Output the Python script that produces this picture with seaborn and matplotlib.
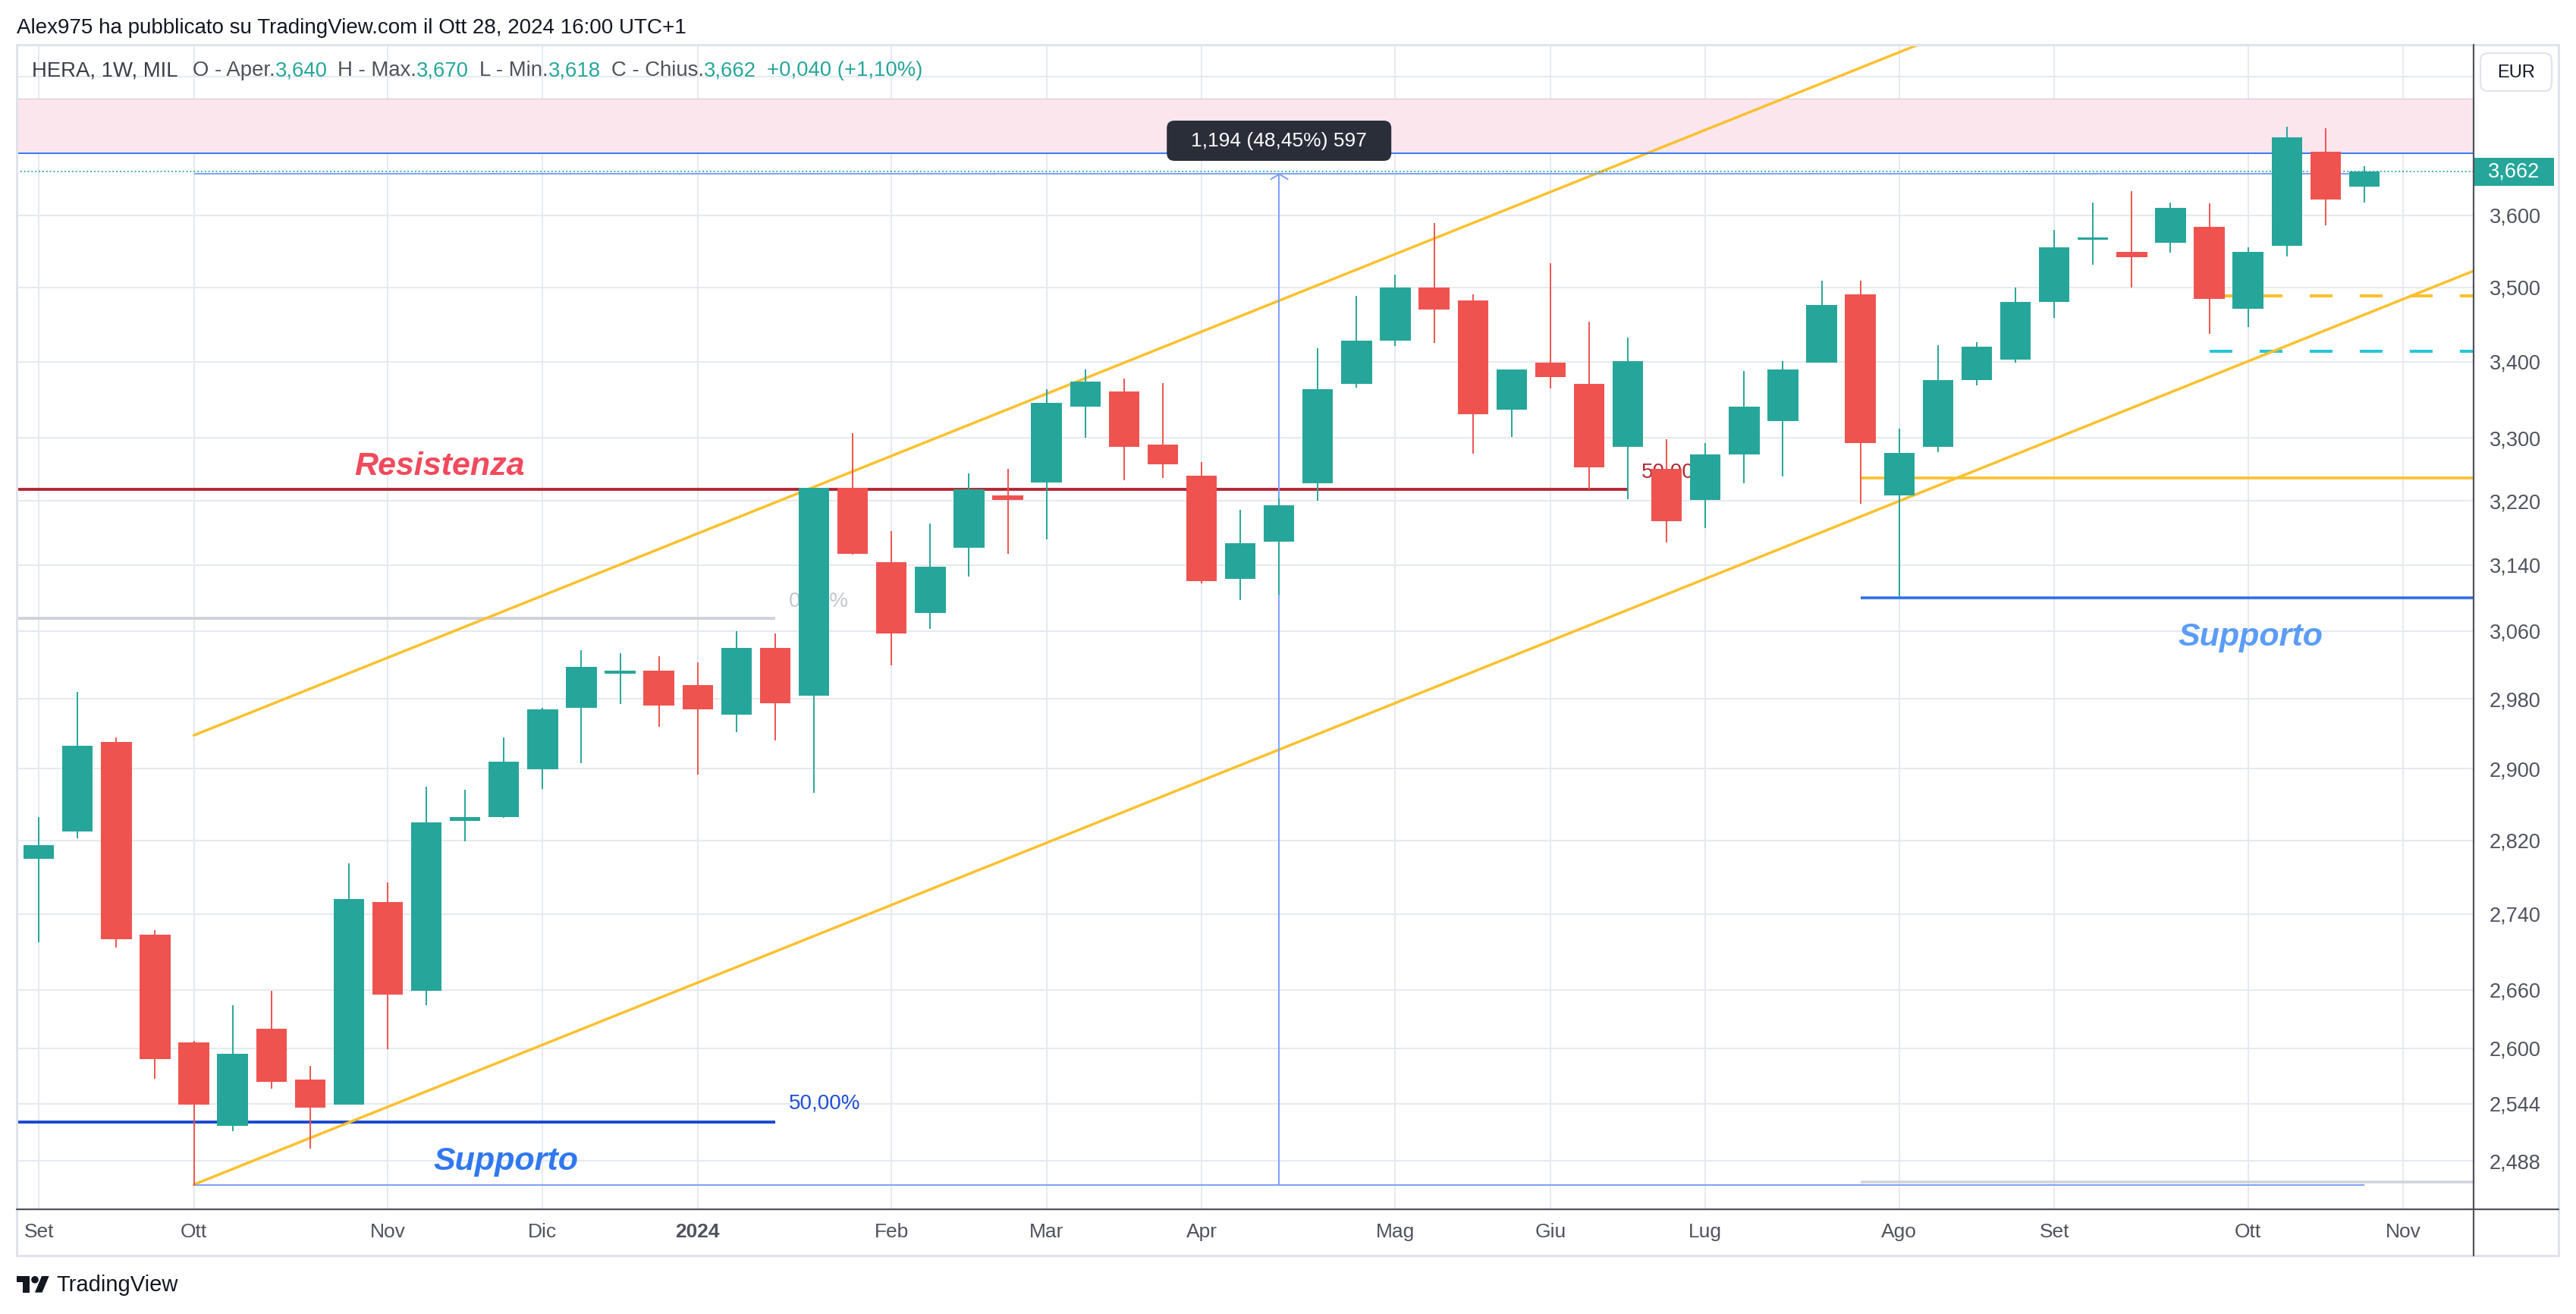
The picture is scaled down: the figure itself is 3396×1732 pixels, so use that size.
"""
HERA (MIL) weekly candles with TradingView-style drawings.
"""

import numpy as np
import pandas as pd
import matplotlib

matplotlib.use("Agg")
import matplotlib.pyplot as plt
import seaborn as sns
from matplotlib.patches import FancyBboxPatch, Polygon, Circle, Rectangle
from matplotlib.path import Path
from matplotlib.ticker import FixedLocator, FixedFormatter, NullLocator

# ---------------------------------------------------------------- data
first_week = "2023-09-04"

opens = [2.800, 2.830, 2.930, 2.718, 2.606, 2.522, 2.620, 2.568, 2.543, 2.753,
         2.659, 2.841, 2.846, 2.899, 2.970, 3.010, 3.013, 2.996, 2.962, 3.040,
         2.984, 3.236, 3.144, 3.082, 3.161, 3.227, 3.243, 3.341, 3.360, 3.291,
         3.252, 3.123, 3.169, 3.242, 3.370, 3.428, 3.500, 3.482, 3.337, 3.399,
         3.370, 3.289, 3.260, 3.221, 3.279, 3.322, 3.399, 3.490, 3.227, 3.289,
         3.375, 3.403, 3.480, 3.566, 3.549, 3.562, 3.584, 3.471, 3.557, 3.691,
         3.640]
highs = [2.846, 2.988, 2.936, 2.723, 2.607, 2.644, 2.659, 2.582, 2.795, 2.774,
         2.880, 2.876, 2.936, 2.970, 3.037, 3.034, 3.030, 3.023, 3.060, 3.057,
         3.236, 3.306, 3.182, 3.192, 3.255, 3.260, 3.363, 3.389, 3.377, 3.371,
         3.269, 3.209, 3.223, 3.418, 3.488, 3.517, 3.589, 3.490, 3.389, 3.533,
         3.453, 3.432, 3.298, 3.293, 3.387, 3.401, 3.509, 3.509, 3.312, 3.422,
         3.426, 3.500, 3.580, 3.618, 3.634, 3.618, 3.617, 3.555, 3.727, 3.724,
         3.670]
lows = [2.710, 2.822, 2.704, 2.569, 2.464, 2.517, 2.559, 2.500, 2.543, 2.599,
        2.644, 2.819, 2.845, 2.877, 2.906, 2.974, 2.948, 2.893, 2.942, 2.932,
        2.873, 3.153, 3.019, 3.063, 3.126, 3.154, 3.172, 3.300, 3.246, 3.249,
        3.118, 3.097, 3.104, 3.220, 3.365, 3.421, 3.425, 3.280, 3.301, 3.364,
        3.234, 3.222, 3.168, 3.186, 3.242, 3.251, 3.399, 3.216, 3.102, 3.282,
        3.368, 3.399, 3.458, 3.531, 3.500, 3.548, 3.437, 3.446, 3.543, 3.586,
        3.618]
closes = [2.815, 2.926, 2.713, 2.589, 2.543, 2.594, 2.566, 2.540, 2.756, 2.655,
          2.840, 2.846, 2.908, 2.968, 3.018, 3.012, 2.972, 2.968, 3.040, 2.975,
          3.236, 3.154, 3.057, 3.138, 3.234, 3.221, 3.346, 3.373, 3.289, 3.266,
          3.120, 3.167, 3.214, 3.363, 3.428, 3.500, 3.470, 3.331, 3.389, 3.379,
          3.262, 3.401, 3.194, 3.279, 3.341, 3.389, 3.476, 3.293, 3.281, 3.375,
          3.420, 3.480, 3.555, 3.567, 3.542, 3.610, 3.484, 3.549, 3.711, 3.622,
          3.662]

price_ticks = [2.488, 2.544, 2.600, 2.660, 2.740, 2.820, 2.900, 2.980,
               3.060, 3.140, 3.220, 3.300, 3.400, 3.500, 3.600]
unlabelled_grid = [3.700, 3.800]
month_names = ["Gen", "Feb", "Mar", "Apr", "Mag", "Giu",
               "Lug", "Ago", "Set", "Ott", "Nov", "Dic"]

y_range = (2.4413, 3.848)
x_range = (-0.57, 62.82)

# drawings (price levels / anchor bars)
pink_zone = (3.688, 3.768)
zone_line = 3.688
resistance = 3.2346
resistance_end = 41
fib_top = 3.075
fib_half = 2.5257
fib_end = 19
support_right = 3.0999
orange_level = 3.2487
grey_level = 2.4675
right_levels_start = 47
dash_orange = 3.488
dash_cyan = 3.4134
dash_start = 56
measure_bars = (4, 60)
measure_mid = 32
measure_prices = (2.4645, 3.6585)
channel_lower = ([4, 62.82], [2.465, 3.5226])
channel_upper = ([4, 40.27], [2.938, 3.661])

UP = "#26a69a"
DOWN = "#ef5350"
YELLOW = "#fbc02d"

# ---------------------------------------------------------------- style
sns.set_theme(style="white")
plt.rcParams["font.family"] = ["Liberation Sans", "DejaVu Sans"]
plt.rcParams["lines.scale_dashes"] = False

W, H, DPI = 3396, 1732, 100
L, R, T, B = 22, 3261, 59, 1594

fig = plt.figure(figsize=(W / DPI, H / DPI), dpi=DPI)
fig.patch.set_facecolor("white")
ax = fig.add_axes([L / W, 1 - B / H, (R - L) / W, (B - T) / H])


def price_px(p):
    lo, hi = np.log(y_range[0]), np.log(y_range[1])
    return T + (hi - np.log(p)) / (hi - lo) * (B - T)


def bar_px(i):
    return L + (i - x_range[0]) / (x_range[1] - x_range[0]) * (R - L)


def fmt(v):
    return f"{v:.3f}".replace(".", ",")


# ---------------------------------------------------------------- axes
ax.set_yscale("log")
ax.set_ylim(*y_range)
ax.set_xlim(*x_range)
for s in ax.spines.values():
    s.set_visible(False)

ax.yaxis.tick_right()
ax.yaxis.set_major_locator(FixedLocator(price_ticks + unlabelled_grid))
ax.yaxis.set_major_formatter(
    FixedFormatter([fmt(v) for v in price_ticks] + ["" for _ in unlabelled_grid]))
ax.yaxis.set_minor_locator(NullLocator())

weeks = pd.date_range(first_week, periods=63, freq="W-MON")
month_idx = [i for i in range(len(weeks))
             if i == 0 or weeks[i].month != weeks[i - 1].month]
month_idx = [i for i in month_idx if i <= x_range[1]]
month_lbl = [str(weeks[i].year) if weeks[i].month == 1 else month_names[weeks[i].month - 1]
             for i in month_idx]
ax.set_xticks(month_idx)
ax.set_xticklabels(month_lbl)
for t, lbl in zip(ax.get_xticklabels(), month_lbl):
    if lbl.isdigit():
        t.set_fontweight("bold")
        t.set_color("#2a2e39")

ax.tick_params(axis="y", length=0, pad=15, labelsize=19.5, labelcolor="#50535e")
ax.tick_params(axis="x", length=0, pad=13, labelsize=19, labelcolor="#50535e")
ax.grid(True, color="#e6eaf0", lw=1.5)
ax.set_axisbelow(True)

# ---------------------------------------------------------------- drawings
ax.axhspan(*pink_zone, color="#fce6ee", lw=0, zorder=1)
ax.axhline(pink_zone[1], color="#d8cdd9", lw=0.9, zorder=1.5)
ax.axhline(zone_line, color="#3179f5", lw=1.4, zorder=3)
ax.axhline(closes[-1], color=UP, lw=1.3, ls=(0, (1.3, 2.2)), zorder=3)

# measurement tool
ax.hlines(measure_prices, *measure_bars, color="#7ba0f7", lw=1.4, zorder=3)
ax.vlines(measure_mid, *measure_prices, color="#7ba0f7", lw=1.4, zorder=3)
chevron = Path([(-1, -0.6), (0, 0), (1, -0.6)], [Path.MOVETO, Path.LINETO, Path.LINETO])
ax.plot([measure_mid], [measure_prices[1]], marker=chevron, ms=17, mfc="none",
        mec="#7ba0f7", mew=1.4, zorder=3)

# fib levels left
ax.hlines(fib_top, x_range[0] - 1, fib_end, color="#cfd2da", lw=2.8, zorder=2)
ax.hlines(fib_half, x_range[0] - 1, fib_end, color="#1848cc", lw=2.8, zorder=2)
ax.text(fib_end + 0.35, 3.096, "0,00%", ha="left", va="center", fontsize=20,
        color="#c3c6cf", zorder=2)
ax.text(fib_end + 0.35, 2.544, "50,00%", ha="left", va="center", fontsize=20,
        color="#1e4fd6", zorder=2)

# resistance
ax.hlines(resistance, x_range[0] - 1, resistance_end, color="#b22833", lw=2.8, zorder=2)
ax.text(resistance_end + 0.35, 3.256, "50,00%", ha="left", va="center", fontsize=20,
        color="#b22833", zorder=2)

# right side levels
ax.hlines(orange_level, right_levels_start, x_range[1] + 1, color=YELLOW, lw=2.6, zorder=2)
ax.hlines(support_right, right_levels_start, x_range[1] + 1, color="#2f6fe8", lw=2.6, zorder=2)
ax.hlines(grey_level, right_levels_start, x_range[1] + 1, color="#d1d4dc", lw=2.6, zorder=2)
ax.hlines(dash_orange, dash_start, x_range[1] + 1, color=YELLOW, lw=2.9,
          linestyles=[(0, (21.6, 25.9))], zorder=2)
ax.hlines(dash_cyan, dash_start, x_range[1] + 1, color="#26c6da", lw=2.9,
          linestyles=[(0, (21.6, 25.9))], zorder=2)

# channel (straight on log scale)
ax.plot(channel_lower[0], channel_lower[1], color=YELLOW, lw=2.5, zorder=2)
slope = (np.log(channel_upper[1][1]) - np.log(channel_upper[1][0])) / \
        (channel_upper[0][1] - channel_upper[0][0])
up_end = 55
ax.plot([channel_upper[0][0], up_end],
        [channel_upper[1][0], np.exp(np.log(channel_upper[1][0]) + slope * (up_end - channel_upper[0][0]))],
        color=YELLOW, lw=2.5, zorder=2)

# labels
lab_kw = dict(fontsize=31, fontweight="bold", fontstyle="italic", ha="center", va="center", zorder=4)
ax.text(10.35, 3.263, "Resistenza", color="#f2495c", **lab_kw)
ax.text(12.06, 2.487, "Supporto", color="#2f78f0", **lab_kw)
ax.text(57.07, 3.053, "Supporto", color="#5b9cf6", **lab_kw)

# ---------------------------------------------------------------- candles
o = np.array(opens)
h = np.array(highs)
l = np.array(lows)
c = np.array(closes)
x = np.arange(len(o))
colors = np.where(c >= o, UP, DOWN)
body_lo = np.minimum(o, c)
body_h = np.maximum(np.abs(c - o), 0.003)
ax.vlines(x, l, h, colors=colors, lw=1.4, zorder=5)
ax.bar(x, body_h, bottom=body_lo, width=0.79, color=colors, lw=0, zorder=6)

# ---------------------------------------------------------------- overlay (pixel coords)
ov = fig.add_axes([0, 0, 1, 1])
ov.set_xlim(0, W)
ov.set_ylim(H, 0)
ov.axis("off")

frame = "#e0e3eb"
ov.plot([L, 3373], [T, T], color=frame, lw=2.2)
ov.plot([L, 3373], [1655, 1655], color=frame, lw=2.2)
ov.plot([L, L], [T, 1655], color=frame, lw=2.2)
ov.plot([3373, 3373], [T, 1655], color=frame, lw=2.2)
ov.plot([L, 3373], [B, B], color="#50535e", lw=1.6)
ov.plot([R, R], [T, 1655], color="#50535e", lw=1.6)

ov.text(L, 37, "Alex975 ha pubblicato su TradingView.com il Ott 28, 2024 16:00 UTC+1",
        ha="left", va="center", fontsize=20, color="#131722")

# legend row
chg = closes[-1] - closes[-2]
segments = [("HERA, 1W, MIL", "#3b3e48", 0),
            ("O - Aper.", "#4f525c", 14),
            (fmt(opens[-1]), UP, 0),
            ("H - Max.", "#4f525c", 10),
            (fmt(highs[-1]), UP, 0),
            ("L - Min.", "#4f525c", 10),
            (fmt(lows[-1]), UP, 0),
            ("C - Chius.", "#4f525c", 10),
            (fmt(closes[-1]), UP, 0),
            (f"{chg:+.3f} ({chg / closes[-2] * 100:+.2f}%)".replace(".", ","), UP, 10)]
prev = ov.text(42, 93, segments[0][0], ha="left", va="center", fontsize=19.8,
               color=segments[0][1])
for txt, col, gap in segments[1:]:
    prev = ov.annotate(txt, xy=(1, 0.5), xycoords=prev, xytext=(gap, 0),
                       textcoords="offset points", ha="left", va="center",
                       fontsize=19.8, color=col)

# price axis extras
ov.add_patch(FancyBboxPatch((3270, 70), 94, 50, boxstyle="round,pad=0,rounding_size=10",
                            fc="white", ec=frame, lw=1.5))
ov.text(3317, 96, "EUR", ha="center", va="center", fontsize=17, color="#131722")
yp = price_px(closes[-1])
ov.add_patch(Rectangle((R + 1, yp - 18.5), 105, 37, fc=UP, ec="none"))
ov.text(3314, yp, fmt(closes[-1]), ha="center", va="center", fontsize=19.5, color="white")

# measurement label
mx = bar_px(measure_mid)
ov.add_patch(FancyBboxPatch((mx - 148, 159), 296, 53, boxstyle="round,pad=0,rounding_size=10",
                            fc="#2a2e39", ec="none"))
diff = measure_prices[1] - measure_prices[0]
ov.text(mx, 186, f"{diff:.3f} ({diff / measure_prices[0] * 100:.2f}%) 597".replace(".", ","),
        ha="center", va="center", fontsize=19, color="white")

# TradingView logo
def lp(u, v):
    return (L + 1.2 * u, 1682 + 1.2 * (v - 4))

ov.add_patch(Polygon([lp(0, 4), lp(14, 4), lp(14, 22), lp(7, 22), lp(7, 11), lp(0, 11)],
                     closed=True, fc="#131722", ec="none"))
ov.add_patch(Circle(lp(20, 8), 4.8, fc="#131722", ec="none"))
ov.add_patch(Polygon([lp(20, 22), lp(27.5, 4), lp(35.5, 4), lp(28, 22)],
                     closed=True, fc="#131722", ec="none"))
ov.text(74, 1694, "TradingView", ha="left", va="center", fontsize=21, color="#131722")

fig.savefig("out.png", dpi=DPI)
